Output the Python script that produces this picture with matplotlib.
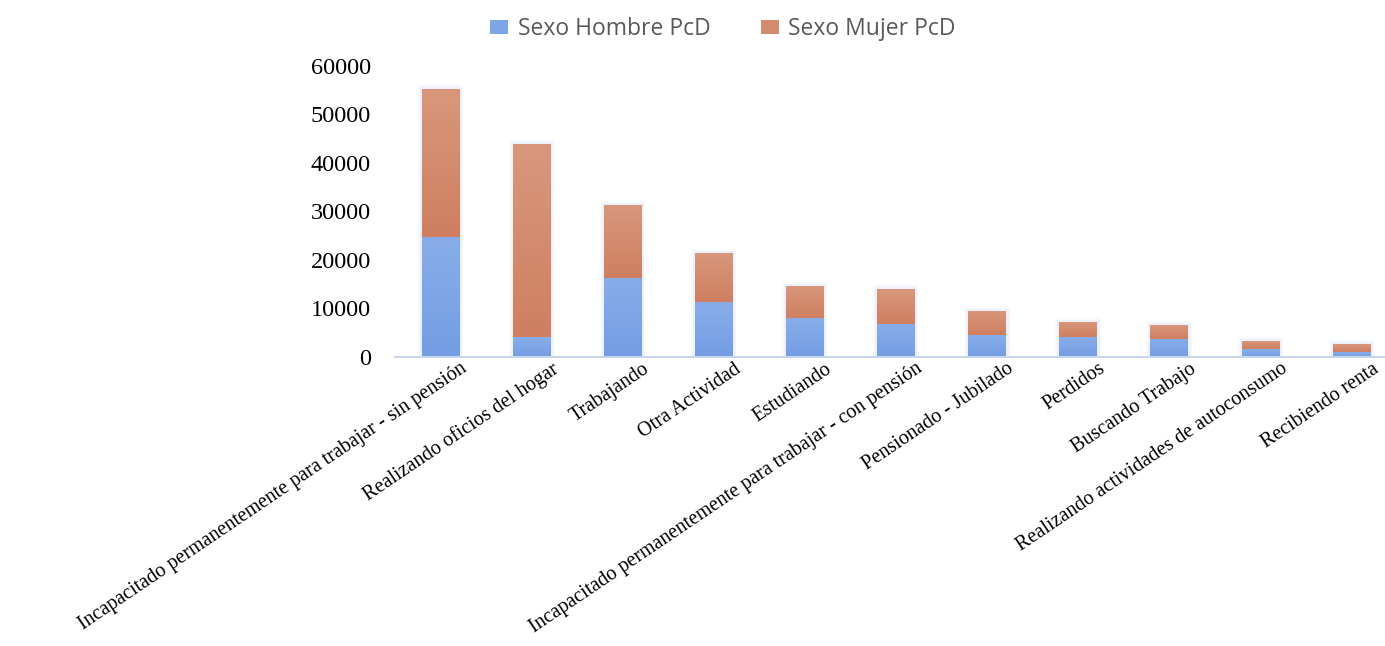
import matplotlib
matplotlib.use("Agg")
import numpy as np
import matplotlib.pyplot as plt
import matplotlib.transforms as mtransforms
from matplotlib.colors import LinearSegmentedColormap

categorias = [
    "Incapacitado permanentemente para trabajar - sin pensión",
    "Realizando oficios del hogar",
    "Trabajando",
    "Otra Actividad",
    "Estudiando",
    "Incapacitado permanentemente para trabajar - con pensión",
    "Pensionado - Jubilado",
    "Perdidos",
    "Buscando Trabajo",
    "Realizando actividades de autoconsumo",
    "Recibiendo renta",
]
hombres = [24700, 4100, 16300, 11200, 7900, 6700, 4400, 4000, 3700, 1550, 1000]
mujeres = [30400, 39700, 14900, 10200, 6600, 7200, 5000, 3100, 2800, 1650, 1500]
yticks = [0, 10000, 20000, 30000, 40000, 50000, 60000]

azul = "#7ea5e7"
naranja = "#d38a6d"
# degradado vertical de cada segmento (abajo -> arriba)
grad_azul = LinearSegmentedColormap.from_list("ga", ["#739de4", "#88ade9"])
grad_naranja = LinearSegmentedColormap.from_list("gn", ["#cf7f60", "#d8977c"])

fig = plt.figure(figsize=(13.85, 6.46), dpi=100)
ax = fig.add_axes([0.285, 0.448, 0.715, 0.4505])

x = np.arange(len(categorias))
ancho = 0.41

# halo suave alrededor de las barras
total = np.array(hombres) + np.array(mujeres)
for lw, a in [(6, 0.08), (3.5, 0.12)]:
    ax.bar(x, total, width=ancho, facecolor="none", edgecolor=(0.62, 0.7, 0.95, a),
           linewidth=lw, zorder=1)

b1 = ax.bar(x, hombres, width=ancho, color=azul, label="Sexo Hombre PcD", zorder=2)
b2 = ax.bar(x, mujeres, width=ancho, bottom=hombres, color=naranja,
            label="Sexo Mujer PcD", zorder=2)

grad = np.linspace(0, 1, 100).reshape(-1, 1)
for barras, cmap in [(b1, grad_azul), (b2, grad_naranja)]:
    for r in barras:
        x0, y0 = r.get_x(), r.get_y()
        w, h = r.get_width(), r.get_height()
        im = ax.imshow(grad, extent=[x0, x0 + w, y0, y0 + h], origin="lower",
                       aspect="auto", cmap=cmap, zorder=2.5)
        im.set_clip_path(r)

ax.set_xlim(-0.5, 10.37)
ax.set_ylim(0, 60000)
ax.set_yticks(yticks)
ax.set_yticklabels([str(v) for v in yticks], fontfamily="Liberation Serif", fontsize=17.5)
ax.tick_params(axis="y", length=0, pad=17)
ax.tick_params(axis="x", length=0, pad=2)

for s in ["top", "right", "left"]:
    ax.spines[s].set_visible(False)
ax.spines["bottom"].set_color("#c9d4ee")
ax.spines["bottom"].set_linewidth(1.5)
ax.spines["bottom"].set_zorder(3)

ax.set_xticks(x)
ax.set_xticklabels(categorias, fontfamily="Liberation Serif", fontsize=14.5,
                   rotation=34, ha="right", va="top", rotation_mode="anchor")
shift = mtransforms.ScaledTranslation(0.2, 0.0, fig.dpi_scale_trans)
for lbl in ax.get_xticklabels():
    lbl.set_transform(lbl.get_transform() + shift)

fig.legend(loc="center", bbox_to_anchor=(0.522, 0.955), ncol=2, frameon=False,
           prop={"family": "Open Sans", "size": 16.5}, labelcolor="#595959",
           handlelength=0.8, handleheight=0.6, columnspacing=2.2, handletextpad=0.4)

fig.savefig("out.png", dpi=100, facecolor="white")
